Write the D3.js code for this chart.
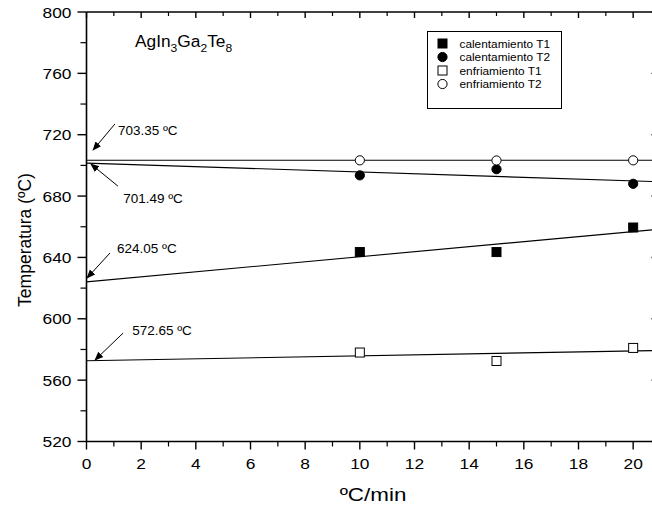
<!DOCTYPE html>
<html>
<head>
<meta charset="utf-8">
<script src="https://cdn.jsdelivr.net/npm/d3@7"></script>
<style>
  body { margin: 0; background: #fff; }
  svg { display: block; font-family: "Liberation Sans", Arial, sans-serif; }
</style>
</head>
<body>
<div id="chart"></div>
<script>
// data
const rates = [10, 15, 20];
const calentT1 = [643.5, 643.5, 659.5];
const calentT2 = [693.5, 697.5, 688];
const enfriT1 = [578, 572.5, 581];
const enfriT2 = [703.3, 703.2, 703.3];

const seriesNames = ["calentamiento T1", "calentamiento T2", "enfriamiento T1", "enfriamiento T2"];
const seriesValues = [calentT1, calentT2, enfriT1, enfriT2];
const seriesShapes = ["square", "circle", "square", "circle"];
const seriesFilled = [true, true, false, false];

// fitted lines: intercept (labelled) and slope
const fitIntercepts = [624.05, 701.49, 572.65, 703.35];
const fitSlopes = [1.64, -0.58, 0.32, 0.0];

const xTicks = [0, 2, 4, 6, 8, 10, 12, 14, 16, 18, 20];
const yTicks = [520, 560, 600, 640, 680, 720, 760, 800];

// annotation labels: text position, arrow start and arrow tip, in data units
const annotations = [
  { text: "703.35 ºC", tx: 1.15, ty: 719.8, ax: 1.04, ay: 727, ex: 0.24, ey: 710 },
  { text: "701.49 ºC", tx: 1.34, ty: 675.7, ax: 1.15, ay: 686.5, ex: 0.16, ey: 700.9 },
  { text: "624.05 ºC", tx: 1.12, ty: 643.1, ax: 0.86, ay: 642.9, ex: 0.02, ey: 626.6 },
  { text: "572.65 ºC", tx: 1.67, ty: 589.4, ax: 1.34, ay: 590.7, ex: 0.31, ey: 573.1 }
];

const width = 652, height = 508;
const margin = { left: 86.5, top: 12, bottom: 66.5 };

const svg = d3.select("#chart").append("svg")
  .attr("width", width)
  .attr("height", height);

const x = d3.scaleLinear().domain([0, 21]).range([margin.left, 660.5]);
const y = d3.scaleLinear().domain([520, 800]).range([height - margin.bottom, margin.top]);

// text that is a little wider than the font, like the original
function label(g, px, py, str, size, sx, anchor) {
  return g.append("text")
    .attr("transform", `translate(${px},${py}) scale(${sx},1)`)
    .attr("text-anchor", anchor || "start")
    .attr("font-size", size)
    .text(str);
}

const defs = svg.append("defs");
defs.append("marker")
  .attr("id", "arrow")
  .attr("viewBox", "0 0 10 10")
  .attr("refX", 9).attr("refY", 5)
  .attr("markerWidth", 9).attr("markerHeight", 9)
  .attr("markerUnits", "userSpaceOnUse")
  .attr("orient", "auto")
  .append("path")
  .attr("d", "M0,1 L10,5 L0,9 Z")
  .attr("fill", "#000");

// minor tick helpers
const xMinor = d3.range(1, 21, 2);
const yMinor = d3.range(540, 800, 40);

const axes = svg.append("g").attr("stroke", "#000").attr("fill", "none");

// frame lines
axes.append("line").attr("x1", x(0)).attr("x2", x(21)).attr("y1", y(520)).attr("y2", y(520)).attr("stroke-width", 1.6);
axes.append("line").attr("x1", x(0)).attr("x2", x(21)).attr("y1", y(800)).attr("y2", y(800)).attr("stroke-width", 1.6);
axes.append("line").attr("x1", x(0)).attr("x2", x(0)).attr("y1", y(520)).attr("y2", y(800)).attr("stroke-width", 1.6);
axes.append("line").attr("x1", x(21)).attr("x2", x(21)).attr("y1", y(520)).attr("y2", y(800)).attr("stroke-width", 1.6);

// bottom ticks (outward) and top ticks (inward)
xTicks.forEach(t => {
  axes.append("line").attr("x1", x(t)).attr("x2", x(t)).attr("y1", y(520)).attr("y2", y(520) + 8).attr("stroke-width", 1.4);
  axes.append("line").attr("x1", x(t)).attr("x2", x(t)).attr("y1", y(800)).attr("y2", y(800) + 6).attr("stroke-width", 1.4);
});
xMinor.forEach(t => {
  axes.append("line").attr("x1", x(t)).attr("x2", x(t)).attr("y1", y(520)).attr("y2", y(520) + 5).attr("stroke-width", 1.2);
  axes.append("line").attr("x1", x(t)).attr("x2", x(t)).attr("y1", y(800)).attr("y2", y(800) + 4).attr("stroke-width", 1.2);
});
// left ticks (outward) and right ticks (inward)
yTicks.forEach(t => {
  axes.append("line").attr("x1", x(0) - 9).attr("x2", x(0)).attr("y1", y(t)).attr("y2", y(t)).attr("stroke-width", 1.4);
  axes.append("line").attr("x1", x(21) - 9).attr("x2", x(21)).attr("y1", y(t)).attr("y2", y(t)).attr("stroke-width", 1.4);
});
yMinor.forEach(t => {
  axes.append("line").attr("x1", x(0) - 6).attr("x2", x(0)).attr("y1", y(t)).attr("y2", y(t)).attr("stroke-width", 1.2);
  axes.append("line").attr("x1", x(21) - 6).attr("x2", x(21)).attr("y1", y(t)).attr("y2", y(t)).attr("stroke-width", 1.2);
});

// tick labels
const tickLabels = svg.append("g");
xTicks.forEach(t => label(tickLabels, x(t), y(520) + 27.5, t, 15.5, 1.12, "middle"));
yTicks.forEach(t => label(tickLabels, x(0) - 15, y(t) + 5.5, t, 15.5, 1.12, "end"));

// axis titles
label(svg, 373, 501, "ºC/min", 19, 1.18, "middle");

svg.append("text")
  .attr("transform", `translate(31, 240) rotate(-90)`)
  .attr("text-anchor", "middle")
  .attr("font-size", 17.5)
  .text("Temperatura (ºC)");

// compound title with subscripts
const title = svg.append("text")
  .attr("transform", "translate(135,47) scale(1.05,1)")
  .attr("font-size", 16.5);
[["AgIn", 0], ["3", 1], ["Ga", 0], ["2", 1], ["Te", 0], ["8", 1]].forEach(([s, sub]) => {
  title.append("tspan")
    .attr("font-size", sub ? 11.5 : 16.5)
    .attr("dy", sub ? 4.5 : (s === "AgIn" ? 0 : -4.5))
    .text(s);
});

// fitted lines
const plot = svg.append("g");
fitIntercepts.forEach((b, i) => {
  plot.append("line")
    .attr("x1", x(0)).attr("y1", y(b))
    .attr("x2", x(21)).attr("y2", y(b + fitSlopes[i] * 21))
    .attr("stroke", "#000").attr("stroke-width", 1.1);
});

// markers
function drawMarker(g, shape, filled, cx, cy) {
  if (shape === "square") {
    g.append("rect")
      .attr("x", cx - 4.5).attr("y", cy - 4.5)
      .attr("width", 9).attr("height", 9)
      .attr("fill", filled ? "#000" : "#fff")
      .attr("stroke", "#000").attr("stroke-width", 1);
  } else {
    g.append("circle")
      .attr("cx", cx).attr("cy", cy).attr("r", 4.6)
      .attr("fill", filled ? "#000" : "#fff")
      .attr("stroke", "#000").attr("stroke-width", 1);
  }
}

seriesValues.forEach((vals, i) => {
  vals.forEach((v, j) => {
    drawMarker(plot, seriesShapes[i], seriesFilled[i], x(rates[j]), y(v));
  });
});

// annotations
annotations.forEach(a => {
  label(svg, x(a.tx), y(a.ty), a.text, 12.5, 1.08);
  svg.append("line")
    .attr("x1", x(a.ax)).attr("y1", y(a.ay))
    .attr("x2", x(a.ex)).attr("y2", y(a.ey))
    .attr("stroke", "#000").attr("stroke-width", 1)
    .attr("marker-end", "url(#arrow)");
});

// legend
const legend = svg.append("g").attr("transform", "translate(427.5, 31.5)");
legend.append("rect")
  .attr("width", 134).attr("height", 77)
  .attr("fill", "#fff").attr("stroke", "#000").attr("stroke-width", 1);
seriesNames.forEach((name, i) => {
  const ly = 12 + i * 13.5;
  drawMarker(legend, seriesShapes[i], seriesFilled[i], 15, ly);
  label(legend, 32, ly + 4, name, 11.5, 1.03);
});
</script>
</body>
</html>
